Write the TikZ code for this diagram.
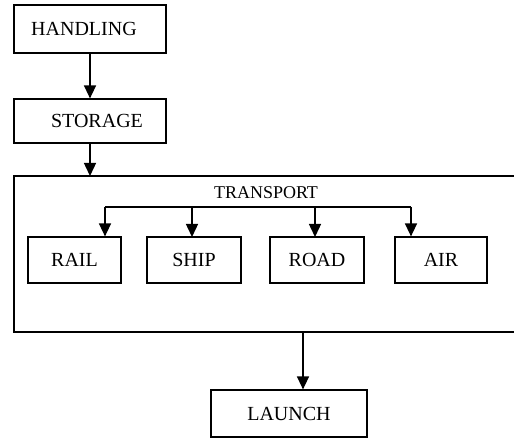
\documentclass[tikz,border=0pt]{standalone}
\usepackage{fontspec}
\setmainfont{Liberation Serif}
\usetikzlibrary{arrows.meta}
\begin{document}
\begin{tikzpicture}[x=1pt,y=-1pt,
  box/.style={draw,line width=1.2pt,rectangle,inner sep=0pt,font=\fontsize{20}{22}\selectfont},
  arr/.style={line width=1.4pt,-{Triangle[width=12pt,length=13pt]}},
  ln/.style={line width=1.4pt}]
\useasboundingbox (0,0) rectangle (514,438);
\node[box,minimum width=152pt,minimum height=48pt] (handling) at (90,29) {\hspace*{-12pt}HANDLING};
\node[box,minimum width=152pt,minimum height=44pt] (storage) at (90,121) {\hspace*{14pt}STORAGE};
\draw[line width=1.2pt] (514,176) coordinate (tr) -- (14,176) coordinate (tl) -- (14,332) coordinate (bl) -- (514,332) coordinate (br);
\coordinate (tin) at (90,176);
\node[font=\fontsize{18}{20}\selectfont] (transport) at (266,193) {TRANSPORT};
\node[box,minimum width=93pt,minimum height=46pt] (rail) at (74.5,260) {RAIL};
\node[box,minimum width=94pt,minimum height=46pt] (ship) at (194,260) {SHIP};
\node[box,minimum width=94pt,minimum height=46pt] (road) at (317,260) {ROAD};
\node[box,minimum width=92pt,minimum height=46pt] (air) at (441,260) {AIR};
\node[box,minimum width=156pt,minimum height=47pt] (launch) at (289,413.5) {LAUNCH};
\coordinate (hl) at (105,207);
\coordinate (hr) at (411,207);
\coordinate (lout) at (303,332);
\draw[arr] (handling.south) -- (storage.north);
\draw[arr] (storage.south) -- (tin);
\draw[ln] (hl) -- (hr);
\draw[arr] (hl) -- (hl |- rail.north);
\draw[arr] (192,207) -- (192,237);
\draw[arr] (315,207) -- (315,237);
\draw[arr] (hr) -- (hr |- air.north);
\draw[arr] (lout) -- (lout |- launch.north);
\end{tikzpicture}
\end{document}
